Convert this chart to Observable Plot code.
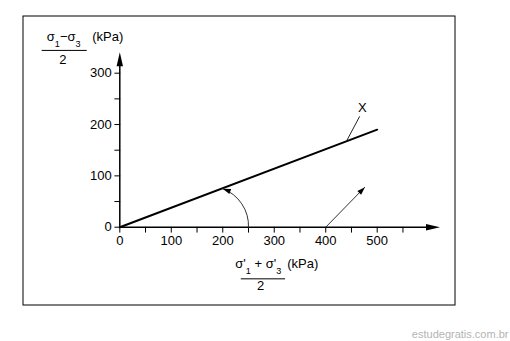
<!DOCTYPE html>
<html><head><meta charset="utf-8">
<script src="https://cdn.jsdelivr.net/npm/d3@7"></script>
<script src="https://cdn.jsdelivr.net/npm/@observablehq/plot@0.6"></script>
<style>body{margin:0;background:#fff}</style>
</head><body><div id="chart"></div>
<script>
// ---- data ----
const lineX = [0, 500];
const lineY = [0, 190];
const xTicks = [0, 50, 100, 150, 200, 250, 300, 350, 400, 450, 500, 550];
const xLabels = [0, 100, 200, 300, 400, 500];
const yTicks = [0, 50, 100, 150, 200, 250, 300];
const yLabels = [0, 100, 200, 300];
const seriesLabel = ["X"];
const curvedArrow = [250, 0, 200, 75];      // x1, y1, x2, y2
const straightArrow = [400, 0, 476, 78];
const leader = [440, 167, 466, 216];
const yTitle = ["σ_1−σ_3", "2", "(kPa)"];
const xTitle = ["σ'_1 + σ'_3", "2", "(kPa)"];
const watermark = ["estudegratis.com.br"];

// ---- scales ----
const xScale = {domain: [0, 500], range: [119.3, 376.7]};
const yScale = {domain: [0, 300], range: [226.7, 72.7]};
const sx = d3.scaleLinear(xScale.domain, xScale.range);
const sy = d3.scaleLinear(yScale.domain, yScale.range);
const deg = 180 / Math.PI;

const head = {draw(ctx, l, r) { ctx.moveTo(0, -l); ctx.lineTo(r, 0); ctx.lineTo(-r, 0); ctx.closePath(); }};
const stick = {draw(ctx, l) { ctx.moveTo(0, 0); ctx.lineTo(0, -l); }};

// rotations of arrowheads (clockwise from up, in screen space)
const sdx = sx(straightArrow[2]) - sx(straightArrow[0]);
const sdy = sy(straightArrow[3]) - sy(straightArrow[1]);
const straightRot = Math.atan2(sdx, -sdy) * deg;
const bend = -36;
const cdx = sx(curvedArrow[2]) - sx(curvedArrow[0]);
const cdy = sy(curvedArrow[3]) - sy(curvedArrow[1]);
const curvedRot = Math.atan2(cdy, cdx) * deg + bend + 90;

const font = "Liberation Sans, Arial, Helvetica, sans-serif";
const fs = 13;

const chart = Plot.plot({
  width: 510, height: 341,
  marginLeft: 22.5, marginRight: 55.5, marginTop: 15.5, marginBottom: 36.5,
  x: {...xScale, axis: null},
  y: {...yScale, axis: null},
  style: {fontFamily: font, fontSize: fs + "px", background: "#fff", color: "#000", overflow: "visible"},
  marks: [
    Plot.frame({stroke: "#000", strokeWidth: 1}),
    // axes
    Plot.ruleY([0], {x1: 0, x2: 600, stroke: "#000", strokeWidth: 1.5}),
    Plot.ruleX([0], {y1: 0, y2: 330, stroke: "#000", strokeWidth: 1.5}),
    Plot.vector([622], {x: d => d, y: 0, rotate: 90, length: 14, r: 3.2, anchor: "end", shape: head, fill: "#000", stroke: "none"}),
    Plot.vector([341], {x: 0, y: d => d, rotate: 0, length: 14, r: 3.2, anchor: "end", shape: head, fill: "#000", stroke: "none"}),
    Plot.vector(xTicks, {x: d => d, y: 0, rotate: 180, length: 5, anchor: "start", shape: stick, stroke: "#000", strokeWidth: 1}),
    Plot.vector(yTicks, {x: 0, y: d => d, rotate: -90, length: 5, anchor: "start", shape: stick, stroke: "#000", strokeWidth: 1}),
    Plot.text(xLabels, {x: d => d, y: 0, dy: 14, text: d => String(d), fill: "#000"}),
    Plot.text(yLabels, {x: 0, y: d => d, dx: -8, textAnchor: "end", text: d => String(d), fill: "#000"}),
    // main line
    Plot.line(lineX.map((x, i) => ({x, y: lineY[i]})), {x: "x", y: "y", stroke: "#000", strokeWidth: 2}),
    // leader + label
    Plot.link([leader], {x1: d => d[0], y1: d => d[1], x2: d => d[2], y2: d => d[3], stroke: "#222", strokeWidth: 1}),
    Plot.text(seriesLabel, {x: 471, y: 232, text: d => d, fill: "#000"}),
    // curved arrow
    Plot.arrow([curvedArrow], {x1: d => d[0], y1: d => d[1], x2: d => d[2], y2: d => d[3], bend, headLength: 0, stroke: "#333", strokeWidth: 1}),
    Plot.vector([curvedArrow], {x: d => d[2], y: d => d[3], rotate: curvedRot, length: 8, r: 2.6, anchor: "end", shape: head, fill: "#000", stroke: "none"}),
    // straight arrow
    Plot.link([straightArrow], {x1: d => d[0], y1: d => d[1], x2: d => d[2], y2: d => d[3], stroke: "#333", strokeWidth: 1}),
    Plot.vector([straightArrow], {x: d => d[2], y: d => d[3], rotate: straightRot, length: 8, r: 2.6, anchor: "end", shape: head, fill: "#000", stroke: "none"}),
    // y title
    Plot.text([yTitle[0]], {x: -109, y: 370, text: d => d, fill: "#000"}),
    Plot.ruleY([{y: 344.4, x1: -150.8, x2: -63.3}], {y: "y", x1: "x1", x2: "x2", stroke: "#000", strokeWidth: 1}),
    Plot.text([yTitle[1]], {x: -110.7, y: 327, text: d => d, fill: "#000"}),
    Plot.text([yTitle[2]], {x: -53.6, y: 370, text: d => d, textAnchor: "start", fill: "#000"}),
    // x title
    Plot.text([xTitle[0]], {x: 269, y: -71, text: d => d, fill: "#000"}),
    Plot.ruleY([{y: -100.6, x1: 236, x2: 322}], {y: "y", x1: "x1", x2: "x2", stroke: "#000", strokeWidth: 1}),
    Plot.text([xTitle[1]], {x: 273.4, y: -115, text: d => d, fill: "#000"}),
    Plot.text([xTitle[2]], {x: 325.2, y: -71, text: d => d, textAnchor: "start", fill: "#000"}),
    // watermark
    Plot.text(watermark, {x: 755, y: -208, text: d => d, textAnchor: "end", fill: "#b4b4b4", fontSize: 11})
  ]
});

// subscripts: "_n" -> smaller, lowered tspan
d3.select(chart).selectAll("text").each(function() {
  const s = this.textContent;
  if (!s.includes("_")) return;
  const el = d3.select(this).text(null);
  const parts = s.split(/_(\d)/);
  let shifted = false;
  parts.forEach((p, i) => {
    if (!p) return;
    const t = el.append("tspan").text(p);
    if (i % 2) {
      t.attr("font-size", "70%").attr("dy", 6);
      shifted = true;
    } else if (shifted) {
      t.attr("dy", -6);
      shifted = false;
    }
  });
});

document.getElementById("chart").append(chart);
</script>
</body></html>
